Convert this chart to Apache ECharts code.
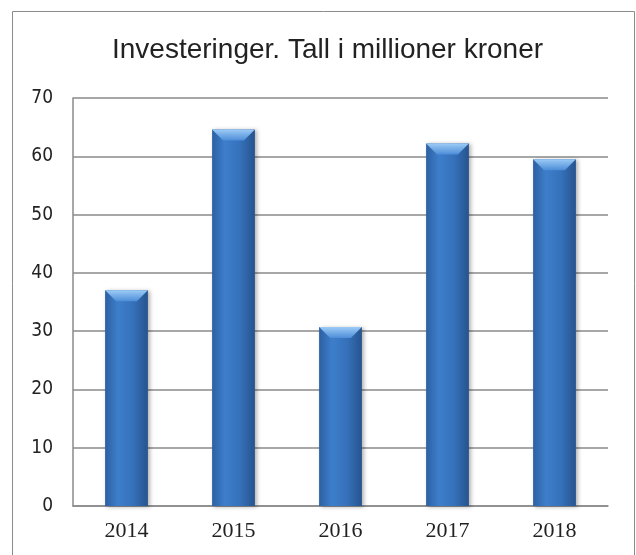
<!DOCTYPE html>
<html>
<head>
<meta charset="utf-8">
<script src="https://cdn.jsdelivr.net/npm/echarts@6/dist/echarts.min.js"></script>
<style>
  html, body { margin: 0; padding: 0; background: #fff; }
  #chart { width: 636px; height: 555px; }
</style>
</head>
<body>
<div id="chart"></div>
<script>
  // data
  const years = ['2014', '2015', '2016', '2017', '2018']
  const investments = [37, 64.6, 30.7, 62.2, 59.5]
  const yTicks = { min: 0, max: 70, interval: 10 }

  const barFill = new echarts.graphic.LinearGradient(0, 0, 1, 0, [
    { offset: 0, color: '#2d60a2' },
    { offset: 0.3, color: '#3d7ecb' },
    { offset: 0.65, color: '#3671bb' },
    { offset: 1, color: '#26548e' }
  ])

  const myChart = echarts.init(document.getElementById('chart'))

  const option = {
    animation: false,
    title: {
      text: 'Investeringer. Tall i millioner kroner',
      left: 107,
      top: 31,
      textStyle: {
        fontFamily: '"Liberation Sans Narrow", "Liberation Sans", sans-serif',
        fontWeight: 'normal',
        fontSize: 28,
        color: '#222'
      }
    },
    graphic: [{
      type: 'rect',
      shape: { x: 12.5, y: 11.5, width: 622, height: 600 },
      style: { fill: 'none', stroke: '#8c8c8c', lineWidth: 1 },
      silent: true
    }],
    grid: { left: 73, right: 28, top: 98, bottom: 49 },
    xAxis: {
      type: 'category',
      data: years,
      axisLine: { show: true, lineStyle: { color: '#8a8a8a', width: 1.5 } },
      axisTick: { show: false },
      axisLabel: {
        margin: 14,
        fontFamily: '"Liberation Serif", serif',
        fontSize: 22,
        color: '#222'
      }
    },
    yAxis: {
      type: 'value',
      min: yTicks.min,
      max: yTicks.max,
      interval: yTicks.interval,
      axisLine: { show: true, lineStyle: { color: '#8a8a8a', width: 1.5 } },
      axisTick: { show: false },
      splitLine: { lineStyle: { color: '#8a8a8a', width: 1.5 } },
      axisLabel: {
        margin: 20,
        fontFamily: '"DejaVu Sans Condensed", "Liberation Sans Narrow", sans-serif',
        fontSize: 19,
        color: '#222'
      }
    },
    series: [{
      type: 'bar',
      data: investments,
      barWidth: '40%',
      itemStyle: {
        color: barFill,
        shadowBlur: 4,
        shadowOffsetX: 2,
        shadowOffsetY: 1,
        shadowColor: 'rgba(0,0,0,0.3)'
      }
    }, {
      // bevel on the top of each bar
      type: 'custom',
      data: investments.map((v, i) => [i, v]),
      renderItem: (params, api) => {
        const top = api.coord([api.value(0), api.value(1)])
        const w = api.size([1, 0])[0] * 0.4
        const x0 = top[0] - w / 2
        const x1 = top[0] + w / 2
        const y0 = top[1]
        const d = 11
        return {
          type: 'polygon',
          shape: { points: [[x0, y0], [x1, y0], [x1 - d, y0 + d], [x0 + d, y0 + d]] },
          style: {
            fill: new echarts.graphic.LinearGradient(0, 0, 0, 1, [
              { offset: 0, color: '#9ccbf6' },
              { offset: 1, color: '#4d8dd8' }
            ])
          }
        }
      },
      z: 3
    }]
  }

  myChart.setOption(option)
</script>
</body>
</html>
